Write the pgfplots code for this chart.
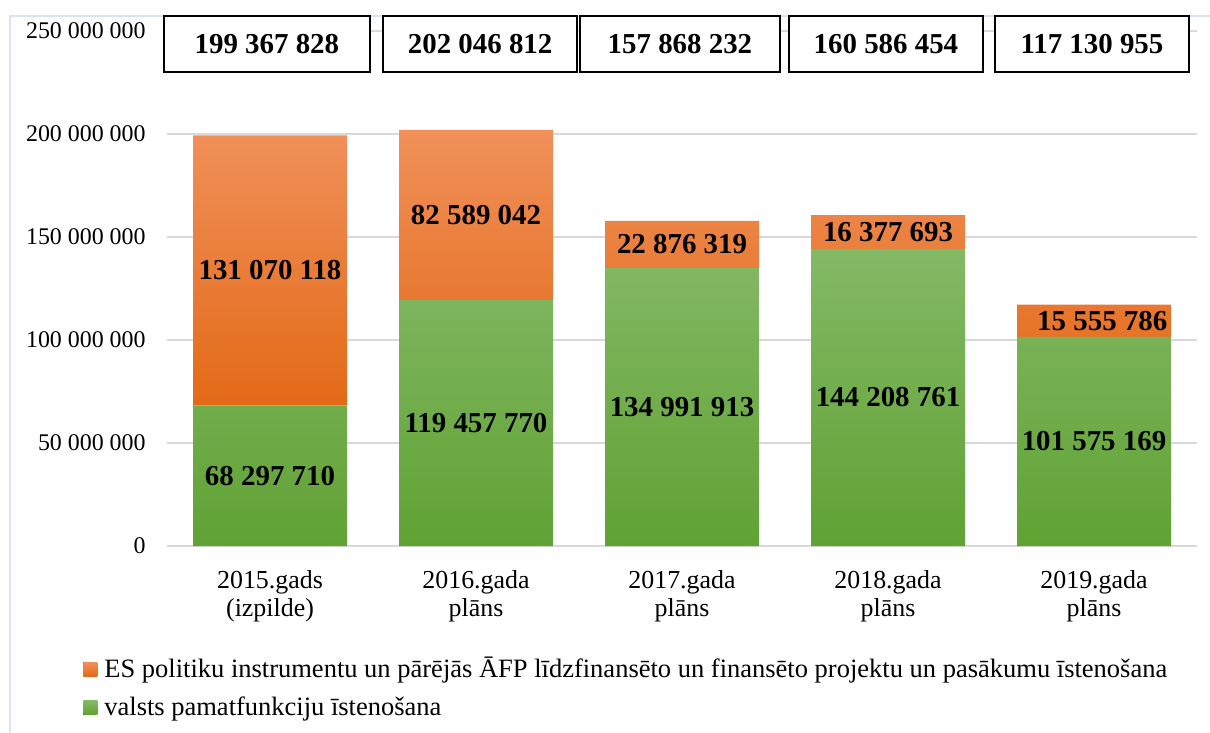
\documentclass[border=0pt]{standalone}
\usepackage{pgfplots}
\pgfplotsset{compat=1.18}
\usepackage{pgfplotstable}
\usepackage{fontspec}
\setmainfont{Liberation Serif}
\definecolor{orTop}{HTML}{F0905A}
\definecolor{orBot}{HTML}{E36A17}
\definecolor{grTop}{HTML}{84B965}
\definecolor{grBot}{HTML}{60A234}
\definecolor{gridc}{HTML}{D9D9D9}
\definecolor{framec}{HTML}{DAE4F0}
\pgfplotstableread{
x g o
0 68297710 131070118
1 119457770 82589042
2 134991913 22876319
3 144208761 16377693
4 101575169 15555786
}\data
\begin{document}
\begin{tikzpicture}
\path[use as bounding box] (0,0) rectangle (605bp,366.5bp);
\draw[framec, line width=1bp] (5bp,0) -- (5bp,358.5bp) -- (606bp,358.5bp);
\begin{axis}[
  at={(83.5bp,93.5bp)}, anchor=south west, scale only axis,
  width=515bp, height=257.5bp,
  ybar stacked, bar width=77bp,
  xmin=-0.5, xmax=4.5, ymin=0, ymax=250000000,
  xtick=data,
  xticklabels={2015.gads\\(izpilde),2016.gada\\plāns,2017.gada\\plāns,2018.gada\\plāns,2019.gada\\plāns},
  ytick={0,50000000,100000000,150000000,200000000,250000000},
  scaled y ticks=false,
  yticklabel style={/pgf/number format/fixed, /pgf/number format/1000 sep={\ }, /pgf/number format/assume math mode=true},
  ymajorgrids, grid style={gridc, line width=0.75bp},
  axis line style={draw=none},
  tick style={draw=none},
  yticklabel style={font=\fontsize{12}{14}\selectfont, anchor=east, inner sep=0pt, xshift=-10.5bp},
  xticklabel style={font=\fontsize{13}{14}\selectfont, align=center, anchor=north, inner sep=0pt, yshift=-12bp},
  reverse legend,
  legend cell align=left,
  legend image code/.code={\fill[#1] (0bp,-3.5bp) rectangle (7bp,3.5bp);},
  legend style={draw=none, fill=none, at={(0,0)}, anchor=north west, xshift=-42bp, yshift=-53.5bp,
    font=\fontsize{13.3}{15}\selectfont, inner sep=0pt, row sep=4bp,
    /tikz/every odd column/.append style={column sep=1.5bp}},
  clip=false,
]
\addplot[draw=none, top color=grTop, bottom color=grBot] table[x=x,y=g]{\data};
\addlegendentry{valsts pamatfunkciju īstenošana}
\addplot[draw=none, top color=orTop, bottom color=orBot] table[x=x,y=o]{\data};
\addlegendentry{ES politiku instrumentu un pārējās ĀFP līdzfinansēto un finansēto projektu un pasākumu īstenošana}

\coordinate (g0) at (axis cs:0,34148855);
\coordinate (g1) at (axis cs:1,59728885);
\coordinate (g2) at (axis cs:2,67495956);
\coordinate (g3) at (axis cs:3,72104380);
\coordinate (g4) at (axis cs:4,50787584);
\coordinate (o0) at (axis cs:0,133832769);
\coordinate (o1) at (axis cs:1,160752291);
\coordinate (o2) at (axis cs:2,146430072);
\coordinate (o3) at (axis cs:3,152397607);
\coordinate (o4) at (axis cs:4.04,109353062);
\coordinate (t0) at (axis cs:-0.015,243450000);
\coordinate (t1) at (axis cs:1.02,243450000);
\coordinate (t2) at (axis cs:1.99,243450000);
\coordinate (t3) at (axis cs:2.99,243450000);
\coordinate (t4) at (axis cs:3.99,243450000);
\end{axis}
\tikzset{vl/.style={font=\bfseries\fontsize{14.5}{16}\selectfont, inner sep=0pt},
         bx/.style={draw, line width=1bp, minimum width=97bp, minimum height=28bp, fill=white, font=\bfseries\fontsize{14.5}{16}\selectfont}}
\node[vl] at (g0) {68 297 710};
\node[vl] at (g1) {119 457 770};
\node[vl] at (g2) {134 991 913};
\node[vl] at (g3) {144 208 761};
\node[vl] at (g4) {101 575 169};
\node[vl] at (o0) {131 070 118};
\node[vl] at (o1) {82 589 042};
\node[vl] at (o2) {22 876 319};
\node[vl] at (o3) {16 377 693};
\node[vl] at (o4) {15 555 786};
\node[bx, minimum width=103bp] at (t0) {199 367 828};
\node[bx] at (t1) {202 046 812};
\node[bx, minimum width=100bp] at (t2) {157 868 232};
\node[bx] at (t3) {160 586 454};
\node[bx] at (t4) {117 130 955};
\end{tikzpicture}
\end{document}
